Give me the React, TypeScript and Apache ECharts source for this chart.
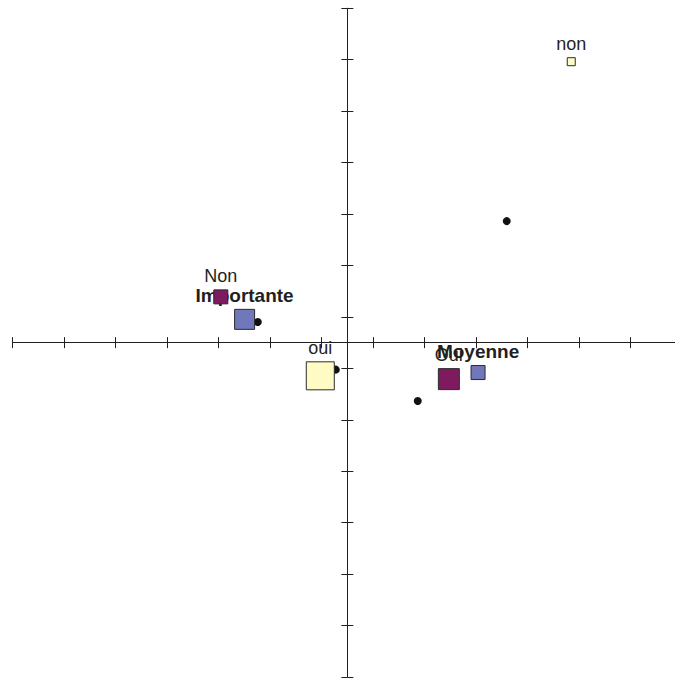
import React, { useEffect, useRef } from "react";
import * as echarts from "echarts";

// Tick positions (axis units, axes cross at 0)
const xTicks = [-6.5, -5.5, -4.5, -3.5, -2.5, -1.5, -0.5, 0.5, 1.5, 2.5, 3.5, 4.5, 5.5];
const yTicks = [-6.5, -5.5, -4.5, -3.5, -2.5, -1.5, -0.5, 0.5, 1.5, 2.5, 3.5, 4.5, 5.5, 6.5];

// Individuals (black dots)
const dotsX = [-1.74, -0.225, 1.367, 3.095];
const dotsY = [0.4, -0.525, -1.135, 2.363];

// Variable modalities
const purpleNames = ["Non", "Oui"];
const purpleX = [-2.458, 1.971];
const purpleY = [0.89, -0.709];
const purpleSize = [14, 21];

const blueNames = ["Importante", "Moyenne"];
const blueX = [-1.996, 2.538];
const blueY = [0.453, -0.581];
const blueSize = [20, 14];

const yellowNames = ["oui", "non"];
const yellowX = [-0.526, 4.348];
const yellowY = [-0.645, 5.462];
const yellowSize = [28, 8];

const TEXT = "#231f20";

function pts(names: string[], xs: number[], ys: number[], sizes: number[]) {
  return xs.map((x, i) => ({ name: names[i], value: [x, ys[i]], symbolSize: sizes[i] }));
}

export default function App() {
  const ref = useRef<HTMLDivElement>(null);
  useEffect(() => {
    if (!ref.current) return;
    const chart = echarts.init(ref.current, null, { renderer: "svg" });
    const axisLine = { onZero: true, lineStyle: { color: TEXT, width: 1 } };
    const xBase = {
      type: "value" as const,
      min: -6.5,
      max: 6.363,
      splitLine: { show: false },
      axisLabel: { show: false },
      axisLine,
    };
    const yBase = {
      type: "value" as const,
      min: -6.5,
      max: 6.5,
      splitLine: { show: false },
      axisLabel: { show: false },
      axisLine,
    };
    const labelBase = {
      show: true,
      position: "top" as const,
      distance: 4,
      fontFamily: "Liberation Sans, Arial, sans-serif",
      fontSize: 18,
      color: TEXT,
      formatter: "{b}",
    };
    chart.setOption({
      animation: false,
      backgroundColor: "#ffffff",
      grid: { left: 12.7, right: 0, top: 8.3, bottom: 2, containLabel: false },
      xAxis: [
        { ...xBase, axisTick: { show: true, inside: false, length: 5.5, customValues: xTicks, lineStyle: { color: TEXT } } },
        { ...xBase, position: "bottom", axisTick: { show: true, inside: true, length: 5.5, customValues: xTicks, lineStyle: { color: TEXT } } },
      ],
      yAxis: [
        { ...yBase, axisTick: { show: true, inside: false, length: 6, customValues: yTicks, lineStyle: { color: TEXT } } },
        { ...yBase, position: "left", axisTick: { show: true, inside: true, length: 6, customValues: yTicks, lineStyle: { color: TEXT } } },
      ],
      series: [
        {
          type: "scatter",
          z: 2,
          symbol: "circle",
          symbolSize: 8,
          itemStyle: { color: "#111111", opacity: 1 },
          data: dotsX.map((x, i) => [x, dotsY[i]]),
        },
        {
          type: "scatter",
          z: 3,
          symbol: "rect",
          itemStyle: { color: "#fffbc4", borderColor: "#2b2b2b", borderWidth: 1, opacity: 1 },
          label: labelBase,
          data: pts(yellowNames, yellowX, yellowY, yellowSize),
        },
        {
          type: "scatter",
          z: 4,
          symbol: "rect",
          itemStyle: { color: "#7177bb", borderColor: "#2b2b2b", borderWidth: 1, opacity: 1 },
          label: { ...labelBase, fontWeight: "bold", fontSize: 19 },
          data: pts(blueNames, blueX, blueY, blueSize),
        },
        {
          type: "scatter",
          z: 5,
          symbol: "rect",
          itemStyle: { color: "#7e1b5e", borderColor: "#2b2b2b", borderWidth: 1, opacity: 1 },
          label: labelBase,
          data: pts(purpleNames, purpleX, purpleY, purpleSize),
        },
      ],
    });
    return () => chart.dispose();
  }, []);
  return (
    <div
      ref={ref}
      style={{ position: "fixed", left: 0, top: 0, width: 675, height: 679, background: "#fff" }}
    />
  );
}
